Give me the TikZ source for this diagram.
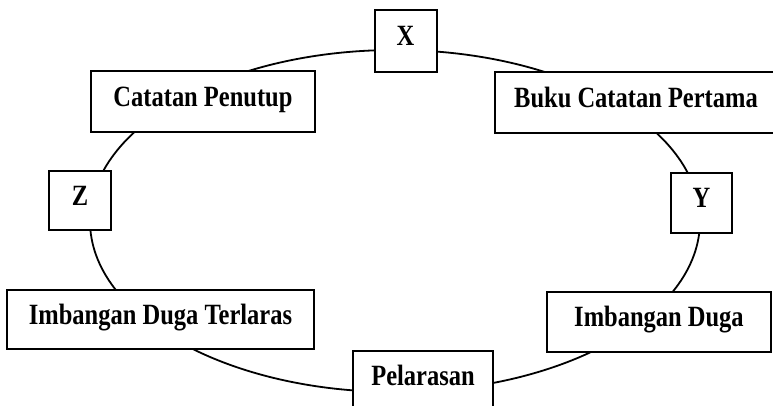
\documentclass[tikz,border=0pt]{standalone}
\usepackage{fontspec}
\setmainfont{Liberation Serif}
\begin{document}
\begin{tikzpicture}[x=0.5pt,y=-0.5pt,kotak/.style={draw,line width=1pt,fill=white,inner sep=0pt,text height=10pt,text depth=5pt,font=\fontsize{12.25}{14}\selectfont\bfseries}]
  \useasboundingbox (0,0) rectangle (773,406);
  \clip (0,0) rectangle (773,406);
  \coordinate (pusat) at (395,221);
  \draw[line width=.9pt] (pusat) ellipse [x radius=305,y radius=171];
  \foreach \n/\x/\y/\w/\h/\gt in {x/405.5/41/62/62/X, cp/203/101.5/224/61/Catatan Penutup, bcp/636/102.5/282/61/Buku Catatan Pertama, y/701.5/203/61/60/Y, z/80/200.5/62/59/Z, idt/160.5/319.5/307/59/Imbangan Duga Terlaras, id/659/322/224/60/Imbangan Duga, pel/423/381/140/60/Pelarasan}
    \path (\x,\y) node[kotak,minimum width=\w*.5pt,minimum height=\h*.5pt](\n){\scalebox{1}[1.2]{\gt}};
\end{tikzpicture}
\end{document}
